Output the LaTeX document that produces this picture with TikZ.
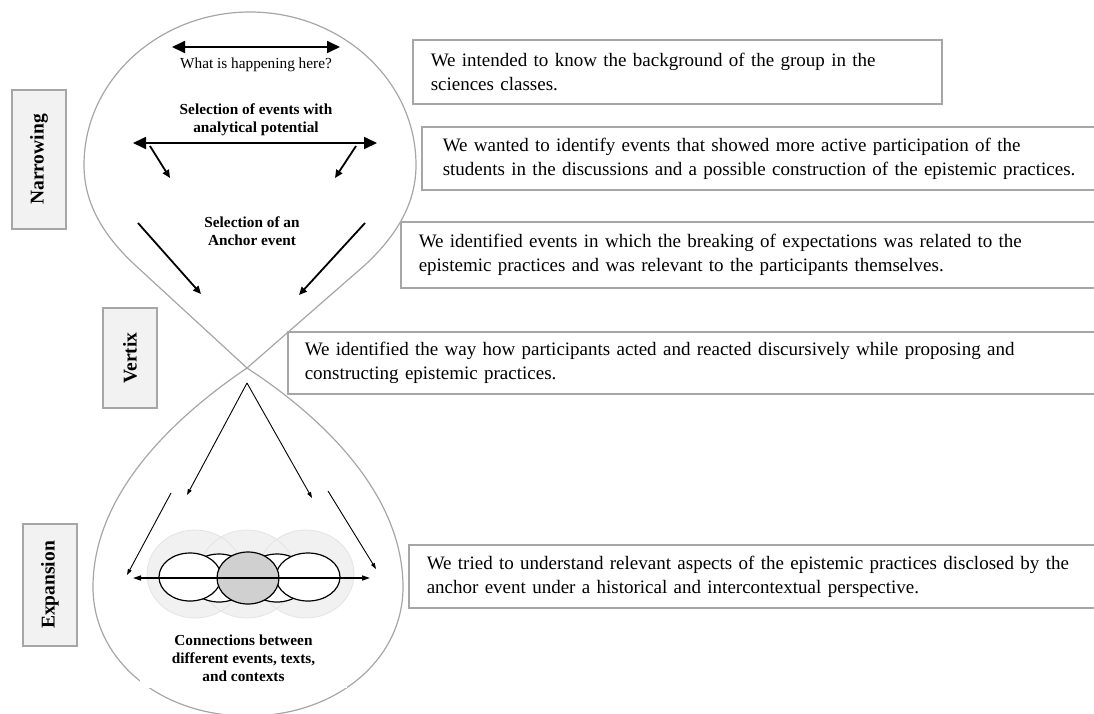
\documentclass[tikz,border=0pt]{standalone}
\usepackage{fontspec}
\setmainfont{Liberation Serif}
\usetikzlibrary{arrows.meta}
\definecolor{olgray}{HTML}{A6A6A6}
\definecolor{lblfill}{HTML}{F2F2F2}
\definecolor{halo}{HTML}{F1F1F1}
\definecolor{halodraw}{HTML}{E4E4E4}
\definecolor{midgray}{HTML}{D0D0D0}
\begin{document}
\begin{tikzpicture}[x=1pt,y=-1pt,
  outline/.style={draw=olgray, line width=1.2pt},
  lbl/.style={draw=olgray, fill=lblfill, line width=1.8pt, rotate=90, inner sep=0pt,
    font=\bfseries\fontsize{19.5}{22}\selectfont},
  desc/.style={draw=olgray, fill=white, line width=1.5pt, anchor=west, align=left,
    inner ysep=0pt, font=\fontsize{19}{24}\selectfont},
  droptext/.style={align=center, inner sep=0pt, font=\fontsize{15.3}{18}\selectfont},
  boldtext/.style={droptext, font=\bfseries\fontsize{15.3}{18}\selectfont},
  bigdbl/.style={line width=1.8pt, {Triangle[length=13pt,width=12pt]}-{Triangle[length=13pt,width=12pt]}},
  thickarr/.style={line width=1.8pt, -{Triangle[length=8pt,width=7pt]}},
  thinarr/.style={line width=0.9pt, -{Triangle[length=6pt,width=4pt]}},
  thindbl/.style={line width=1.4pt, {Triangle[length=8pt,width=5pt]}-{Triangle[length=8pt,width=5pt]}},
  ring/.style={draw=black, line width=1.2pt, fill=white},
]
\useasboundingbox (0,0) rectangle (1094,713);
\clip (0,0) rectangle (1094,713);

% ---------- light halo circles ----------
\fill[halo] (195,574) ellipse [x radius=48, y radius=44];
\fill[halo] (306,574) ellipse [x radius=48, y radius=44];
\fill[halo] (247,574) ellipse [x radius=48, y radius=44];
\draw[halodraw, line width=0.8pt] (195,574) ellipse [x radius=48, y radius=44];
\draw[halodraw, line width=0.8pt] (306,574) ellipse [x radius=48, y radius=44];
\draw[halodraw, line width=0.8pt] (247,574) ellipse [x radius=48, y radius=44];

% ---------- teardrops ----------
\coordinate (vtx) at (247,368);
\draw[outline] (vtx) -- (135,265) .. controls (105,237) and (84,205) .. (84,165)
  .. controls (84,80) and (159,12) .. (250,12)
  .. controls (341,12) and (416,80) .. (416,165)
  .. controls (416,205) and (395,237) .. (365,265) -- cycle;
\draw[outline] (vtx) .. controls (200,400) and (93,480) .. (93,587)
  .. controls (93,660) and (160,716) .. (248,716)
  .. controls (336,716) and (403,660) .. (403,587)
  .. controls (403,480) and (296,400) .. (vtx);

% ---------- rings on the connection line ----------
\draw[ring] (219,578) ellipse [x radius=31, y radius=24];
\draw[ring] (277,578) ellipse [x radius=31, y radius=24];
\draw[ring] (190,577) ellipse [x radius=31, y radius=24];
\draw[ring] (308,577) ellipse [x radius=32, y radius=24];
\draw[ring, fill=midgray] (248,578) ellipse [x radius=31, y radius=26];

% ---------- upper drop content ----------
\coordinate (a1l) at (172,47);  \coordinate (a1r) at (340,47);
\draw[bigdbl] (a1l) -- (a1r);
\node[droptext] (what) at (256,65) {What is happening here?};
\node[boldtext] (sel1) at (256,120) {Selection of events with\\analytical potential};
\coordinate (a2l) at (133,143); \coordinate (a2r) at (377,143);
\draw[bigdbl] (a2l) -- (a2r);
\coordinate (s1a) at (150,146); \coordinate (s1b) at (170,178);
\coordinate (s2a) at (356,146); \coordinate (s2b) at (335,178);
\draw[thickarr] (s1a) -- (s1b);
\draw[thickarr] (s2a) -- (s2b);
\node[boldtext] (sel2) at (252,231) {Selection of an\\Anchor event};
\coordinate (b1a) at (138,223); \coordinate (b1b) at (201,294);
\coordinate (b2a) at (365,223); \coordinate (b2b) at (299,295);
\draw[thickarr] (b1a) -- (b1b);
\draw[thickarr] (b2a) -- (b2b);

% ---------- lower drop content ----------
\coordinate (apex) at (247,383);
\coordinate (l1) at (187,495); \coordinate (r1) at (312,498);
\draw[thinarr] (apex) -- (l1);
\draw[thinarr] (apex) -- (r1);
\coordinate (l2a) at (171,493); \coordinate (l2b) at (127,575);
\coordinate (r2a) at (328,491); \coordinate (r2b) at (376,569);
\draw[thinarr] (l2a) -- (l2b);
\draw[thinarr] (r2a) -- (r2b);
\coordinate (hl) at (133,578); \coordinate (hr) at (370,578);
\draw[thindbl] (hl) -- (hr);
\node[boldtext, fill=white, minimum width=207pt, minimum height=60pt] (conn) at (243.5,658)
  {Connections between\\different events, texts,\\and contexts};

% ---------- stage labels ----------
\node[lbl, minimum width=139pt, minimum height=54pt] (narrow) at (39,159.5) {Narrowing};
\node[lbl, minimum width=100pt, minimum height=54pt] (vertix) at (130,358) {Vertix};
\node[lbl, minimum width=122pt, minimum height=54pt] (expan) at (50,585) {Expansion};

% ---------- description boxes ----------
\node[desc, inner xsep=18pt, text width=493pt, minimum height=64pt] (d1) at (412,72)
  {We intended to know the background of the group in the\\sciences classes.};
\node[desc, inner xsep=21pt, text width=760pt, minimum height=63pt] (d2) at (421,158.5)
  {We wanted to identify events that showed more active participation of the\\students in the discussions and a possible construction of the epistemic practices.};
\node[desc, inner xsep=18pt, text width=760pt, minimum height=66pt] (d3) at (400,255)
  {We identified events in which the breaking of expectations was related to the\\epistemic practices and was relevant to the participants themselves.};
\node[desc, inner xsep=17pt, text width=860pt, minimum height=62pt] (d4) at (287,363)
  {We identified the way how participants acted and reacted discursively while proposing and\\constructing epistemic practices.};
\node[desc, inner xsep=18pt, text width=760pt, minimum height=63pt] (d5) at (408,576.5)
  {We tried to understand relevant aspects of the epistemic practices disclosed by the\\anchor event under a historical and intercontextual perspective.};
\end{tikzpicture}
\end{document}
